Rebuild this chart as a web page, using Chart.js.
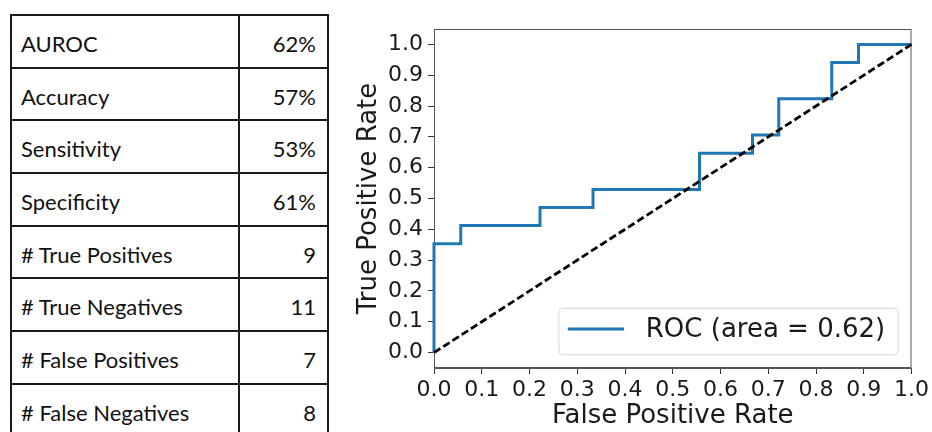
<!DOCTYPE html>
<html>
<head>
<meta charset="utf-8">
<script src="https://cdn.jsdelivr.net/npm/chart.js@4.4.1/dist/chart.umd.min.js"></script>
<style>
  html, body { margin: 0; padding: 0; background: #fff; width: 932px; height: 432px; overflow: hidden; }
  #metrics {
    position: absolute; left: 10px; top: 14px;
    display: grid; grid-template-columns: 226px 87px; grid-auto-rows: 50.7px;
    gap: 2px; padding: 2px; background: #1a1a1a;
    font-family: Lato, sans-serif; font-size: 22px; color: #111;
  }
  #metrics div { background: #fff; display: flex; align-items: center; padding-top: 4px; box-sizing: border-box; }
  #metrics .name { padding-left: 9px; }
  #metrics .val { justify-content: flex-end; padding-right: 11px; }
  #rocWrap { position: absolute; left: 340px; top: 0; width: 592px; height: 432px; }
</style>
</head>
<body>
<div id="metrics"></div>
<div id="rocWrap"><canvas id="roc" width="592" height="432"></canvas></div>
<script>
// table
const metricNames = ["AUROC", "Accuracy", "Sensitivity", "Specificity",
  "# True Positives", "# True Negatives", "# False Positives", "# False Negatives"];
const metricValues = ["62%", "57%", "53%", "61%", "9", "11", "7", "8"];

// roc curve corners
const fpr = [0, 0, 0.056, 0.056, 0.222, 0.222, 0.333, 0.333, 0.556, 0.556,
  0.667, 0.667, 0.722, 0.722, 0.833, 0.833, 0.889, 0.889, 1.0];
const tpr = [0, 0.353, 0.353, 0.412, 0.412, 0.471, 0.471, 0.529, 0.529, 0.647,
  0.647, 0.706, 0.706, 0.824, 0.824, 0.941, 0.941, 1.0, 1.0];
const rocLabel = "ROC (area = 0.62)";

// chance line
const chanceX = [0, 1];
const chanceY = [0, 1];

const xTicks = [0, 0.1, 0.2, 0.3, 0.4, 0.5, 0.6, 0.7, 0.8, 0.9, 1.0];
const yTicks = [0, 0.1, 0.2, 0.3, 0.4, 0.5, 0.6, 0.7, 0.8, 0.9, 1.0];

const table = document.getElementById("metrics");
metricNames.forEach((name, i) => {
  const a = document.createElement("div");
  a.className = "name";
  a.textContent = name;
  const b = document.createElement("div");
  b.className = "val";
  b.textContent = metricValues[i];
  table.appendChild(a);
  table.appendChild(b);
});

const tickFont = { family: "DejaVu Sans", size: 22 };
const titleFont = { family: "DejaVu Sans", size: 26, lineHeight: 1.2 };

/* frame round the plot */
const frame = {
  id: "frame",
  beforeDatasetsDraw(chart) {
    const { ctx, chartArea: a } = chart;
    ctx.save();
    ctx.strokeStyle = "#555";
    ctx.lineWidth = 1;
    ctx.strokeRect(a.left + 0.5, a.top + 0.5, a.right - a.left - 1, a.bottom - a.top - 1);
    ctx.restore();
  }
};

/* legend in lower right */
const legendBox = {
  id: "legendBox",
  afterDraw(chart) {
    const { ctx, chartArea: a } = chart;
    const ds = chart.data.datasets[0];
    ctx.save();
    ctx.font = "26px 'DejaVu Sans'";
    const tw = ctx.measureText(ds.label).width;
    const w = 9.4 + 56.3 + 21.7 + tw + 12.6;
    const h = 46.6;
    const x = a.right - 13.7 - w;
    const y = a.bottom - 13.7 - h;
    ctx.beginPath();
    ctx.roundRect(x + 0.5, y + 0.5, w, h, 4);
    ctx.fillStyle = "rgba(255,255,255,0.8)";
    ctx.fill();
    ctx.strokeStyle = "#d6d6d6";
    ctx.lineWidth = 1;
    ctx.stroke();
    const ly = y + 21.3;
    ctx.beginPath();
    ctx.moveTo(x + 9.4, ly);
    ctx.lineTo(x + 9.4 + 56.3, ly);
    ctx.strokeStyle = ds.borderColor;
    ctx.lineWidth = ds.borderWidth;
    ctx.stroke();
    ctx.fillStyle = "#1a1a1a";
    ctx.textBaseline = "middle";
    ctx.fillText(ds.label, x + 9.4 + 56.3 + 21.7, ly + 1);
    ctx.restore();
  }
};

new Chart(document.getElementById("roc"), {
  type: "scatter",
  data: {
    datasets: [
      {
        label: rocLabel,
        data: fpr.map((x, i) => ({ x: x, y: tpr[i] })),
        showLine: true,
        borderColor: "#1f77b4",
        borderWidth: 3,
        pointRadius: 0,
        tension: 0,
        clip: 4,
        order: 1
      },
      {
        label: "chance",
        data: chanceX.map((x, i) => ({ x: x, y: chanceY[i] })),
        showLine: true,
        borderColor: "#000",
        borderWidth: 2.8,
        borderDash: [7.5, 3.5],
        pointRadius: 0,
        clip: 4,
        order: 0
      }
    ]
  },
  options: {
    responsive: false,
    animation: false,
    devicePixelRatio: 1,
    layout: { padding: { left: 0, top: 29, right: 19, bottom: 0 } },
    plugins: {
      legend: { display: false },
      tooltip: { enabled: false }
    },
    scales: {
      x: {
        type: "linear",
        min: 0,
        max: 1,
        afterBuildTicks: s => { s.ticks = xTicks.map(v => ({ value: v })); },
        afterFit: s => { s.height = 64; },
        ticks: {
          font: tickFont, color: "#1a1a1a", padding: 3,
          maxRotation: 0, autoSkip: false,
          callback: v => Number(v).toFixed(1)
        },
        grid: { drawOnChartArea: false, drawTicks: true, tickLength: 6, tickColor: "#333", tickWidth: 1 },
        border: { display: true, color: "#555", width: 1 },
        title: { display: true, text: "False Positive Rate", font: titleFont, color: "#1a1a1a", padding: { top: 0, bottom: 0 } }
      },
      y: {
        type: "linear",
        min: -0.05,
        max: 1.05,
        afterBuildTicks: s => { s.ticks = yTicks.map(v => ({ value: v })); },
        afterFit: s => { s.width = 94; },
        ticks: {
          font: tickFont, color: "#1a1a1a", padding: 5,
          autoSkip: false,
          callback: v => Number(v).toFixed(1)
        },
        grid: { drawOnChartArea: false, drawTicks: true, tickLength: 6, tickColor: "#333", tickWidth: 1 },
        border: { display: true, color: "#555", width: 1 },
        title: { display: true, text: "True Positive Rate", font: titleFont, color: "#1a1a1a", padding: { top: 14, bottom: 0 } }
      }
    }
  },
  plugins: [frame, legendBox]
});
</script>
</body>
</html>
